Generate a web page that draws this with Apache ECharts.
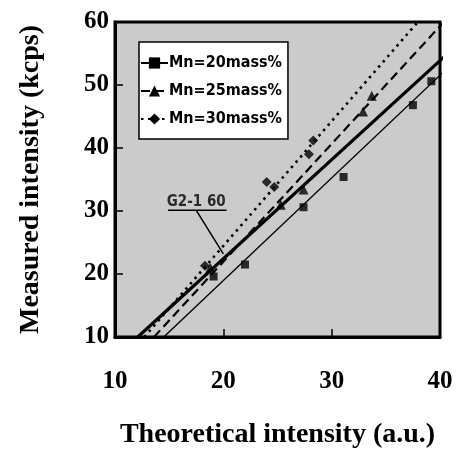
<!DOCTYPE html>
<html><head><meta charset="utf-8">
<script src="https://cdn.jsdelivr.net/npm/echarts@6/dist/echarts.min.js"></script>
<style>html,body{margin:0;padding:0;background:#fff}#c{width:457px;height:454px}</style>
</head><body><div id="c"></div>
<script>
var xTicks = [10, 20, 30, 40];
var yTicks = [10, 20, 30, 40, 50, 60];
var mn20Points = [[19.1,19.6],[22.0,21.5],[27.4,30.6],[31.1,35.4],[37.5,46.8],[39.2,50.6]];
var mn25Points = [[18.8,21.0],[25.3,31.0],[27.4,33.4],[32.9,45.8],[33.7,48.3]];
var mn30Points = [[18.3,21.3],[24.0,34.6],[24.7,33.8],[27.9,39.0],[28.3,41.2]];
var mn20Fit = [[14.5,10],[40.4,52.2]];
var mn25Fit = [[13.6,10],[40.3,59.9]];
var mn30Fit = [[12.7,10],[38.0,60.1]];
var g2Line = [[12.1,10],[40.4,54.5]];
var noteText = 'G2-1 60';
var notePos = [[17.5,31.4]];
var noteUnderline = [[14.9,30.1],[20.3,30.1]];
var noteLeader = [[17.5,30.1],[20.0,23.2]];
var names = ['Mn=20mass%','Mn=25mass%','Mn=30mass%'];

var condFont = '"Liberation Sans Narrow","DejaVu Sans Condensed","Arial Narrow","DejaVu Sans",sans-serif';
var serif = '"Liberation Serif","DejaVu Serif",serif';

var chart = echarts.init(document.getElementById('c'), null, {renderer:'canvas'});
function fit(name, data, type, width, symbol, size) {
  return {type:'line', name:name, data:data, showSymbol:false, symbol:symbol, symbolSize:size,
    clip:false, silent:true, itemStyle:{color:'#000'},
    lineStyle:{color:'#000', width:width, type:type, cap: 'butt'}, z:3};
}
function pts(name, data, symbol, size) {
  return {type:'scatter', name:name, data:data, symbol:symbol, symbolSize:size,
    itemStyle:{color:'#000'}, z:4};
}
chart.setOption({
  animation:false,
  backgroundColor:'#fff',
  grid:{left:115, right:17, top:22, bottom:111, show:true, backgroundColor:'#cbcbcb', borderColor:'#000', borderWidth:3},
  xAxis:{type:'value', min:xTicks[0], max:xTicks[xTicks.length-1], interval:10,
    name:'Theoretical intensity (a.u.)', nameLocation:'middle', nameGap:84,
    nameTextStyle:{fontFamily:serif, fontWeight:'bold', fontSize:28, color:'#000'},
    axisLine:{show:true, onZero:false, lineStyle:{color:'#000', width:3}},
    axisTick:{show:true, inside:true, length:8, lineStyle:{color:'#000', width:1.5}},
    axisLabel:{margin:32, fontFamily:serif, fontWeight:'bold', fontSize:25, color:'#000'},
    splitLine:{show:false}},
  yAxis:{type:'value', min:yTicks[0], max:yTicks[yTicks.length-1], interval:10,
    name:'Measured intensity (kcps)', nameLocation:'middle', nameGap:70,
    nameTextStyle:{fontFamily:serif, fontWeight:'bold', fontSize:28, color:'#000'},
    axisLine:{show:true, onZero:false, lineStyle:{color:'#000', width:3}},
    axisTick:{show:true, inside:true, length:8, lineStyle:{color:'#000', width:1.5}},
    axisLabel:{margin:6, fontFamily:serif, fontWeight:'bold', fontSize:25, color:'#000'},
    splitLine:{show:false}},
  legend:{show:true, left:139, top:42, orient:'vertical',
    backgroundColor:'#fff', borderColor:'#000', borderWidth:1.5, borderRadius:0,
    padding:[13,6,12,1], itemGap:12, itemWidth:27, itemHeight:14,
    textStyle:{fontFamily:condFont, fontWeight:'bold', fontSize:16, lineHeight:16, color:'#000', padding:[0,0,0,-4]},
    data:names},
  series:[
    fit(names[0], mn20Fit, 'solid', 1.4, 'rect', 8),
    fit(names[1], mn25Fit, [9,5], 2.2, 'triangle', 9),
    fit(names[2], mn30Fit, [2.5,4.5], 2.6, 'diamond', 9),
    {type:'line', name:'g2', data:g2Line, showSymbol:false, clip:false, silent:true,
      lineStyle:{color:'#000', width:3.2}, z:3},
    pts(names[0], mn20Points, 'rect', 8),
    pts(names[1], mn25Points, 'triangle', 10),
    pts(names[2], mn30Points, 'diamond', 10),
    {type:'line', name:'u', data:noteUnderline, showSymbol:false, silent:true,
      lineStyle:{color:'#000', width:1.5}, z:3},
    {type:'line', name:'l', data:noteLeader, showSymbol:false, silent:true,
      lineStyle:{color:'#000', width:1.5}, z:3},
    {type:'scatter', name:'t', data:notePos, symbolSize:1, itemStyle:{color:'transparent'}, silent:true,
      label:{show:true, position:'inside', formatter:noteText, fontFamily:condFont, fontWeight:'bold', fontSize:15, color:'#000'}, z:5}
  ]
});
</script></body></html>
